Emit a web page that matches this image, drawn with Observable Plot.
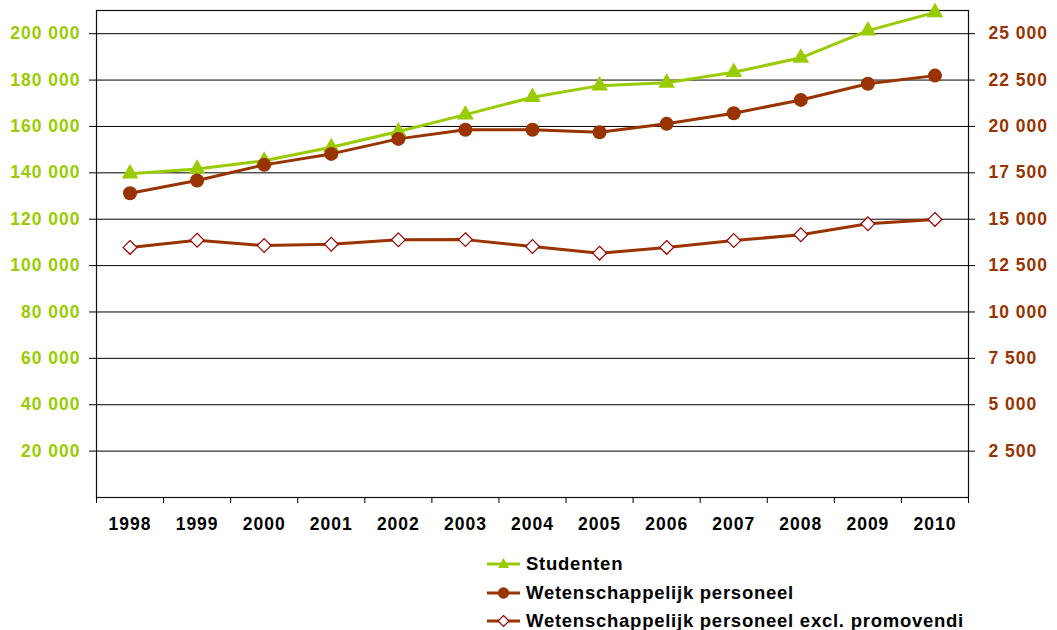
<!DOCTYPE html>
<html>
<head>
<meta charset="utf-8">
<script src="https://cdn.jsdelivr.net/npm/d3@7"></script>
<script src="https://cdn.jsdelivr.net/npm/@observablehq/plot@0.6"></script>
<style>
  body { margin: 0; background: #fff; font-family: "Liberation Sans", Arial, sans-serif; }
  #wrap { position: relative; width: 1057px; height: 630px; }
  #legend { position: absolute; left: 487px; top: 550px; }
  .row { display: flex; align-items: center; height: 28.5px; font-weight: bold; font-size: 18.5px; letter-spacing: 0.75px; color: #000; white-space: nowrap; }
  .row svg { margin-right: 5px; }
</style>
</head>
<body>
<div id="wrap"><div id="chart"></div><div id="legend"></div></div>
<script>
const years = [1998, 1999, 2000, 2001, 2002, 2003, 2004, 2005, 2006, 2007, 2008, 2009, 2010];
const studenten = [139600, 141700, 145200, 151000, 157800, 165100, 172600, 177600, 178800, 183400, 189600, 201300, 209200];
const personeel = [16400, 17090, 17930, 18520, 19330, 19820, 19820, 19690, 20140, 20710, 21430, 22300, 22740];
const exclPromovendi = [13480, 13870, 13580, 13650, 13890, 13900, 13530, 13170, 13480, 13850, 14160, 14750, 14990];
const leftTicks = [20000, 40000, 60000, 80000, 100000, 120000, 140000, 160000, 180000, 200000];
const rightTicks = [2500, 5000, 7500, 10000, 12500, 15000, 17500, 20000, 22500, 25000];
const seriesNames = ["Studenten", "Wetenschappelijk personeel", "Wetenschappelijk personeel excl. promovendi"];
const ratio = 8; // right axis value * 8 = left axis value

const green = "#99cc00", brown = "#993300", darkRed = "#990000";
const fmt = d => d3.format(",")(d).replace(/,/g, " ");

const sData = years.map((y, i) => ({year: y, value: studenten[i]}));
const pData = years.map((y, i) => ({year: y, value: personeel[i]}));
const eData = years.map((y, i) => ({year: y, value: exclPromovendi[i]}));
const boundaries = years.map(y => y - 0.5).concat([years[years.length - 1] + 0.5]);

const chart = Plot.plot({
  width: 1057,
  height: 540,
  marginLeft: 96,
  marginRight: 89,
  marginTop: 10,
  marginBottom: 43,
  style: {fontFamily: "'Liberation Sans', Arial, sans-serif", background: "#fff", letterSpacing: "1px"},
  x: {type: "linear", domain: [1997.5, 2010.5], axis: null},
  y: {domain: [0, 210000], axis: null},
  marks: [
    Plot.gridY(leftTicks, {stroke: "#000", strokeOpacity: 1, strokeWidth: 1}),
    Plot.frame({stroke: "#111", strokeWidth: 1.2}),
    Plot.axisY(leftTicks, {anchor: "left", tickSize: 7, tickPadding: 9, tickFormat: fmt, fill: green, stroke: "#000", fontWeight: "bold", fontSize: 17.5, label: null}),
    Plot.axisY(rightTicks.map(v => v * ratio), {anchor: "right", tickSize: 6, tickPadding: 14, tickFormat: d => fmt(d / ratio), fill: brown, stroke: "#000", fontWeight: "bold", fontSize: 17.5, label: null}),
    Plot.axisX(boundaries, {anchor: "bottom", tickSize: 6, tickFormat: () => "", stroke: "#000", label: null}),
    Plot.axisX(years, {anchor: "bottom", tickSize: 0, tickPadding: 20, tickFormat: d => String(d), fill: "#000", fontWeight: "bold", fontSize: 17.5, label: null}),
    Plot.line(sData, {x: "year", y: "value", stroke: green, strokeWidth: 3}),
    Plot.dot(sData, {x: "year", y: "value", symbol: "triangle", r: 6.2, fill: green, stroke: "none"}),
    Plot.line(pData, {x: "year", y: d => d.value * ratio, stroke: brown, strokeWidth: 3}),
    Plot.dot(pData, {x: "year", y: d => d.value * ratio, symbol: "circle", r: 7, fill: brown, stroke: "none"}),
    Plot.line(eData, {x: "year", y: d => d.value * ratio, stroke: brown, strokeWidth: 3}),
    Plot.dot(eData, {x: "year", y: d => d.value * ratio, symbol: "diamond2", r: 6.2, fill: "#fff", stroke: darkRed, strokeWidth: 1.2})
  ]
});
document.getElementById("chart").appendChild(chart);

// Legend
const legendItems = [
  {name: seriesNames[0], line: green, marker: "triangle"},
  {name: seriesNames[1], line: brown, marker: "circle"},
  {name: seriesNames[2], line: brown, marker: "diamond"}
];
const legend = document.getElementById("legend");
for (const item of legendItems) {
  const row = document.createElement("div");
  row.className = "row";
  const ns = "http://www.w3.org/2000/svg";
  const svg = document.createElementNS(ns, "svg");
  svg.setAttribute("width", 34);
  svg.setAttribute("height", 16);
  const line = document.createElementNS(ns, "line");
  line.setAttribute("x1", 0); line.setAttribute("x2", 33);
  line.setAttribute("y1", 8); line.setAttribute("y2", 8);
  line.setAttribute("stroke", item.line); line.setAttribute("stroke-width", 3);
  svg.appendChild(line);
  const p = document.createElementNS(ns, "path");
  if (item.marker === "triangle") {
    p.setAttribute("d", "M16.5,2 L22,12 L11,12 Z");
    p.setAttribute("fill", green);
  } else if (item.marker === "circle") {
    p.setAttribute("d", d3.symbol(d3.symbolCircle, 100)());
    p.setAttribute("transform", "translate(16.5,8)");
    p.setAttribute("fill", brown);
  } else {
    p.setAttribute("d", "M16.5,2.5 L22,8 L16.5,13.5 L11,8 Z");
    p.setAttribute("fill", "#fff");
    p.setAttribute("stroke", darkRed);
    p.setAttribute("stroke-width", 1.2);
  }
  svg.appendChild(p);
  row.appendChild(svg);
  const span = document.createElement("span");
  span.textContent = item.name;
  row.appendChild(span);
  legend.appendChild(row);
}
</script>
</body>
</html>
